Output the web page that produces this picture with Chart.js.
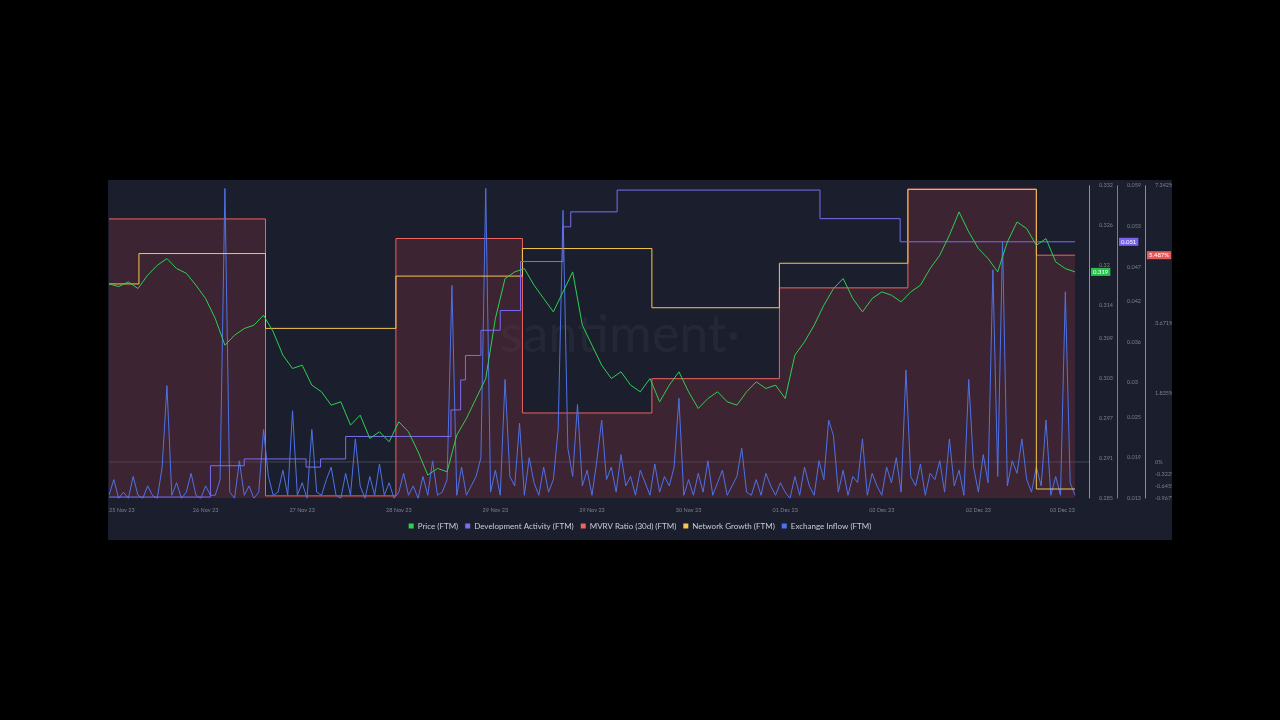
<!DOCTYPE html>
<html lang="en">
<head>
<meta charset="UTF-8">
<title>FTM on-chain metrics</title>
<script src="https://cdn.jsdelivr.net/npm/chart.js"></script>
<style>
    body { margin: 0; background: #000; width: 1280px; height: 720px; overflow: hidden; }
    .panel {
        position: absolute; left: 108px; top: 180px; width: 1064px; height: 360px;
        background: #1b1f2d;
    }
</style>
</head>
<body>
<div class="panel"><canvas id="chart" width="1064" height="360"></canvas></div>
<script>
// x axis: 0..100, one date label every 10 steps
const dateLabels = ['25 Nov 23', '26 Nov 23', '27 Nov 23', '28 Nov 23', '29 Nov 23', '29 Nov 23',
    '30 Nov 23', '01 Dec 23', '02 Dec 23', '02 Dec 23', '03 Dec 23'];

// Price (FTM), one value per step
const price = [
    .3172, .3168, .3175, .3165, .3185, .3200, .3210, .3195, .3188, .3170,
    .3150, .3120, .3080, .3095, .3105, .3110, .3125, .3100, .3065, .3045,
    .3050, .3020, .3010, .2990, .2995, .2960, .2975, .2940, .2950, .2935,
    .2965, .2950, .2920, .2885, .2895, .2890, .2945, .2970, .3000, .3030,
    .3120, .3180, .3190, .3195, .3170, .3150, .3130, .3160, .3190, .3110,
    .3080, .3050, .3030, .3040, .3020, .3010, .3030, .2995, .3020, .3040,
    .3010, .2985, .3000, .3010, .2995, .2990, .3010, .3025, .3015, .3020,
    .3000, .3065, .3085, .3110, .3140, .3165, .3180, .3150, .3130, .3150,
    .3160, .3155, .3145, .3160, .3170, .3195, .3215, .3245, .3280, .3250,
    .3225, .3210, .3190, .3235, .3265, .3255, .3230, .3240, .3205, .3195,
    .3190
];

// stepped series: [x, value] at each change, last point closes the step
const devActivity = [
    [0, .0132], [10.5, .0178], [14, .0188], [20.4, .0176], [21.9, .0188], [24.5, .0221],
    [35.4, .026], [36.4, .0304], [36.9, .034], [38.5, .0377], [40.5, .0406], [42.6, .0478],
    [47, .0529], [47.8, .0551], [52.6, .0583], [73.6, .0541], [81.9, .0507], [100, .0507]
];
const mvrv = [
    [0, 6.45], [16.2, -0.9], [29.7, 5.93], [42.8, 1.30], [56.2, 2.21], [69.4, 4.62],
    [82.7, 7.24], [96, 5.487], [100, 5.487]
];
const networkGrowth = [
    [0, 68.5], [3.1, 78.2], [16.2, 54.3], [29.7, 71], [42.8, 79.8], [56.2, 60.9],
    [69.4, 75.1], [82.7, 98.7], [96, 3], [100, 3]
];

// Exchange inflow, one value per half step
const exchangeInflow = [
    1, 6, 0, 2, 0, 7, 1, 0, 4, 1, 0, 10, 36, 1, 5, 0, 2, 8, 1, 0,
    4, 1, 1, 6, 99, 2, 0, 12, 1, 4, 0, 2, 22, 7, 1, 2, 9, 1, 28, 1,
    5, 0, 22, 2, 1, 6, 10, 1, 0, 8, 1, 19, 4, 0, 7, 1, 11, 1, 5, 0,
    2, 8, 1, 4, 0, 7, 1, 12, 1, 2, 6, 68, 1, 10, 1, 4, 7, 13, 99, 2,
    9, 1, 38, 7, 4, 24, 1, 13, 5, 1, 10, 2, 6, 22, 92, 16, 7, 30, 4, 9,
    1, 12, 25, 6, 10, 2, 14, 4, 7, 1, 9, 5, 1, 11, 2, 7, 4, 10, 32, 1,
    6, 1, 8, 2, 12, 1, 5, 9, 1, 4, 7, 16, 2, 1, 6, 1, 8, 4, 1, 5,
    2, 0, 7, 1, 10, 4, 1, 12, 6, 25, 20, 2, 9, 1, 7, 5, 19, 1, 8, 4,
    1, 10, 5, 13, 2, 41, 7, 4, 11, 1, 8, 6, 12, 2, 19, 4, 9, 1, 38, 10,
    2, 14, 5, 73, 7, 82, 4, 12, 8, 19, 6, 2, 10, 4, 25, 1, 7, 1, 66, 5,
    1
];

const priceTicks = [0.332, 0.326, 0.32, 0.314, 0.309, 0.303, 0.297, 0.291, 0.285];
const devTicks = [0.059, 0.053, 0.047, 0.042, 0.036, 0.03, 0.025, 0.019, 0.013];
const mvrvTicks = [7.342, 3.671, 1.835, 0, -0.322, -0.645, -0.967];

const toXY = arr => arr.map(([x, y]) => ({ x, y }));

const tickFont = { family: 'Lato', size: 5.5 };
const setTicks = list => scale => { scale.ticks = list.map(v => ({ value: v })); };
const axisWidth = w => scale => { scale.width = w; };

// watermark, zero line, coloured axis lines, value badges
const extras = {
    id: 'extras',
    beforeDatasetsDraw(chart) {
        const { ctx, chartArea } = chart;
        ctx.save();
        ctx.font = '52px Lato';
        ctx.fillStyle = 'rgba(255,255,255,0.045)';
        ctx.textAlign = 'center';
        ctx.textBaseline = 'middle';
        ctx.fillText('santiment·', 620 - 108, 335 - 180);
        const y0 = chart.scales.yMvrv.getPixelForValue(0);
        ctx.strokeStyle = 'rgba(140,150,170,0.35)';
        ctx.lineWidth = 1;
        ctx.beginPath();
        ctx.moveTo(chartArea.left, y0);
        ctx.lineTo(chartArea.right, y0);
        ctx.stroke();
        ctx.restore();
    },
    afterDraw(chart) {
        const { ctx, chartArea } = chart;
        ctx.save();
        [['yPrice', '#2fcf52'], ['yDev', '#7a6cf2'], ['yMvrv', '#f0625e']].forEach(([id, color]) => {
            const s = chart.scales[id];
            ctx.strokeStyle = color;
            ctx.lineWidth = 1;
            ctx.beginPath();
            ctx.moveTo(s.left + 0.5, chartArea.top);
            ctx.lineTo(s.left + 0.5, chartArea.bottom);
            ctx.stroke();
        });
        const badges = [
            ['yPrice', price[price.length - 1], '0.319', '#27c24c'],
            ['yDev', 0.0507, '0.051', '#7b61f0'],
            ['yMvrv', 5.487, '5.487%', '#e8595a']
        ];
        ctx.font = '6px Lato';
        ctx.textBaseline = 'middle';
        badges.forEach(([id, v, text, color]) => {
            const s = chart.scales[id];
            const y = s.getPixelForValue(v);
            const w = ctx.measureText(text).width + 4;
            ctx.fillStyle = color;
            ctx.fillRect(s.left + 2, y - 4, w, 8);
            ctx.fillStyle = '#fff';
            ctx.fillText(text, s.left + 4, y);
        });
        ctx.restore();
    }
};

new Chart(document.getElementById('chart'), {
    type: 'line',
    data: {
        datasets: [{
            label: 'Price (FTM)',
            data: price.map((v, i) => ({ x: i, y: v })),
            borderColor: '#2fcf52',
            backgroundColor: '#2fcf52',
            borderWidth: 1,
            yAxisID: 'yPrice',
            order: 1
        }, {
            label: 'Development Activity (FTM)',
            data: toXY(devActivity),
            stepped: true,
            borderColor: '#7a6cf2',
            backgroundColor: '#7a6cf2',
            borderWidth: 1,
            yAxisID: 'yDev',
            order: 2
        }, {
            label: 'MVRV Ratio (30d) (FTM)',
            data: toXY(mvrv),
            stepped: true,
            borderColor: '#f0625e',
            backgroundColor: 'rgba(130,50,62,0.33)',
            fill: 'start',
            borderWidth: 1,
            yAxisID: 'yMvrv',
            order: 5
        }, {
            label: 'Network Growth (FTM)',
            data: toXY(networkGrowth),
            stepped: true,
            borderColor: '#f4c64f',
            backgroundColor: '#f4c64f',
            borderWidth: 1,
            yAxisID: 'yNet',
            order: 3
        }, {
            label: 'Exchange Inflow (FTM)',
            data: exchangeInflow.map((v, i) => ({ x: i / 2, y: v })),
            borderColor: '#4f72e6',
            backgroundColor: '#4f72e6',
            borderWidth: 1,
            yAxisID: 'yFlow',
            order: 4
        }]
    },
    options: {
        responsive: false,
        animation: false,
        elements: { point: { radius: 0 }, line: { tension: 0 } },
        layout: { padding: { left: 0, top: 0, right: 0, bottom: 0 } },
        scales: {
            x: {
                type: 'linear', min: 0, max: 101.45,
                afterBuildTicks: setTicks(dateLabels.map((_, i) => i * 10)),
                ticks: {
                    font: tickFont, color: '#7a7f8e', maxRotation: 0, padding: 1, align: 'inner',
                    callback: v => dateLabels[Math.round(v / 10)]
                },
                grid: { display: false },
                border: { display: false }
            },
            yPrice: {
                position: 'right', min: 0.285, max: 0.332,
                afterBuildTicks: setTicks(priceTicks), afterFit: axisWidth(28),
                ticks: { font: tickFont, color: '#7a7f8e', padding: 2, callback: v => v },
                grid: { display: false },
                border: { display: false }
            },
            yDev: {
                position: 'right', min: 0.013, max: 0.059,
                afterBuildTicks: setTicks(devTicks), afterFit: axisWidth(28),
                ticks: { font: tickFont, color: '#7a7f8e', padding: 2, callback: v => v },
                grid: { display: false },
                border: { display: false }
            },
            yMvrv: {
                position: 'right', min: -0.967, max: 7.342,
                afterBuildTicks: setTicks(mvrvTicks), afterFit: axisWidth(27),
                ticks: { font: tickFont, color: '#7a7f8e', padding: 2, callback: v => v + '%' },
                grid: { display: false },
                border: { display: false }
            },
            yNet: { display: false, min: 0, max: 100 },
            yFlow: { display: false, min: 0, max: 100 }
        },
        plugins: {
            legend: {
                position: 'bottom',
                labels: {
                    color: '#c9ccd6', font: { family: 'Lato', size: 8 },
                    boxWidth: 5, boxHeight: 5, padding: 7,
                    sort: (a, b) => a.datasetIndex - b.datasetIndex,
                    generateLabels: chart => chart.data.datasets.map((d, i) => ({
                        text: d.label, fillStyle: d.borderColor, strokeStyle: d.borderColor,
                        lineWidth: 0, fontColor: '#c9ccd6', datasetIndex: i, hidden: false
                    }))
                }
            },
            tooltip: { enabled: false }
        }
    },
    plugins: [extras]
});
</script>
</body>
</html>
